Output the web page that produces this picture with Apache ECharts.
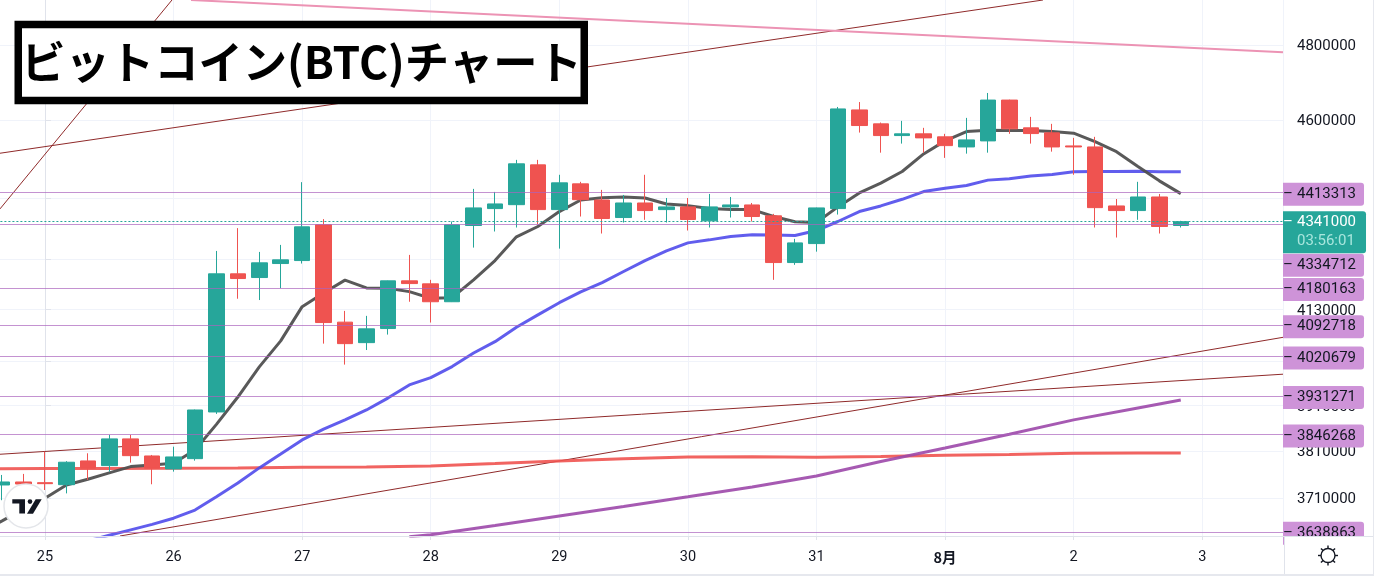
<!DOCTYPE html>
<html><head><meta charset="utf-8">
<style>html,body{margin:0;padding:0;background:#fff;overflow:hidden}#c{width:1374px;height:576px}</style>
<script src="https://cdn.jsdelivr.net/npm/echarts@6/dist/echarts.min.js"></script>
</head><body><div id="c"></div>
<script>
const titleText = 'ビットコイン(BTC)チャート';
const dayLabels = ['24','25','26','27','28','29','30','31','8月','2','3'];
const firstCandle = -2;
const opens = [3737200,3743600,3742100,3737800,3788700,3778600,3836500,3799400,3771500,3793600,3895700,4214200,4205300,4238900,4246100,4333400,4099900,4052400,4085000,4197400,4190200,4147800,4331600,4373500,4383300,4483700,4371000,4435500,4394900,4351300,4387500,4371000,4377700,4343200,4377700,4382600,4355500,4241300,4287300,4373500,4626000,4589500,4559000,4563500,4555700,4529600,4545200,4652000,4579100,4566100,4532200,4529600,4380100,4368600,4402500,4331600];
const closes = [3743600,3739300,3740000,3785900,3773000,3836500,3800100,3773000,3797300,3900100,4214200,4202900,4240600,4247800,4328400,4099000,4050100,4084300,4197400,4190900,4147800,4333400,4375200,4385100,4486300,4371000,4438000,4395700,4348900,4387500,4368600,4377700,4346400,4377700,4382600,4353800,4241300,4289000,4375200,4628600,4585100,4559000,4563500,4553000,4533000,4547800,4652000,4576500,4564200,4529600,4529600,4375900,4368600,4402500,4329200,4341000];
const lows = [3705000,3737200,3726500,3719400,3747900,3765700,3785000,3738700,3765700,3789300,3891400,4154900,4151800,4179900,4238900,4050100,4002100,4035400,4071000,4147800,4099000,4147100,4277500,4316900,4326700,4335100,4275000,4353800,4311900,4339000,4345700,4339000,4319300,4326700,4351300,4341500,4199800,4235800,4267700,4358700,4566800,4514900,4538200,4514900,4501500,4512400,4514900,4563500,4538200,4517500,4458400,4326700,4302100,4345700,4311900,4326700];
const highs = [3758600,3760800,3808700,3788100,3805200,3845200,3845200,3801600,3819500,3901000,4269400,4325200,4267000,4284100,4439800,4347400,4126200,4114600,4198000,4259800,4199800,4341500,4422800,4415200,4496400,4496400,4458400,4440600,4420300,4407600,4458400,4400000,4400000,4410100,4402500,4387500,4360400,4298900,4376000,4633800,4646800,4592900,4597300,4579100,4563500,4605100,4670800,4653000,4607700,4589500,4553000,4555700,4397400,4440600,4410100,4343200];
const fastMAStart = -3;
const fastMA = [3638900,3661600,3686400,3709300,3737200,3749400,3762900,3776500,3780100,3783800,3812300,3868300,3928900,3996900,4056400,4136200,4168600,4199100,4180600,4179900,4171700,4155900,4157300,4199800,4246100,4303800,4329200,4366100,4394900,4400700,4402500,4400000,4385100,4380900,4373500,4371000,4371000,4353800,4340700,4339000,4377700,4412700,4437300,4466700,4511600,4545200,4569500,4573100,4572100,4572100,4569500,4565300,4543400,4517500,4479400,4443100,4410900];
const midMAStart = 2;
const midMA = [3620300,3631700,3643000,3654400,3667200,3684300,3712100,3741500,3773700,3803700,3834300,3857800,3878200,3900100,3926600,3956100,3972600,3997600,4028600,4054700,4088200,4116900,4145500,4171000,4193300,4219700,4246100,4269400,4289000,4296400,4304500,4308700,4308000,4307000,4319300,4341500,4366100,4380100,4396700,4416000,4424600,4431200,4444900,4448200,4455100,4459100,4466000,4466700,4466700,4467700,4466000,4466000];
const redMAIdx = [-3,0,3,6,9,12,15,18,21,24,27,30,33,36,39,42,45,48,51,53];
const redMA = [3771500,3772200,3772600,3773000,3773700,3775200,3775800,3778000,3783100,3788700,3793600,3797300,3797700,3796600,3798400,3800900,3802400,3805200,3805600,3805900];
const purpleMAIdx = [17,18,21,24,27,30,33,36,39,42,45,48,51,53];
const purpleMA = [3628600,3632700,3652100,3671900,3691600,3712100,3732900,3756500,3787400,3816700,3846600,3878200,3904500,3922100];
const trendA = [[-2.1,4372700],[5.926,4924500]];
const trendB = [[-2.1,4513400],[46.57,4924500]];
const trendC = [[3.5,3630300],[57.77,4064700]];
const trendD = [[-2.1,3803100],[57.77,3980300]];
const trendPink = [[6.813,4924500],[57.77,4780100]];
const levelPrices = [4413313,4334712,4180163,4092718,4020679,3931271,3846268,3638863];
const displaced = {4334712:39.5};
const lastPrice = 4341000;
const countdown = '03:56:01';
const axisPrices = [4800000,4600000,4130000,3910000,3810000,3710000];
const gridPrices = [4800000,4600000,4400000,4250000,4130000,4010000,3910000,3810000,3710000];

const UP='#26a69a', DOWN='#ef5350', GRID='#f0f3fa', BORDER='#e0e3eb', INK='#131722', LABEL='#ce93d8', TREND='#8f2a2a';
const candles = opens.map((o,k)=>[firstCandle+k,o,closes[k],lows[k],highs[k]]);
const withStart=(arr,s)=>arr.map((v,k)=>[s+k,v]);
const withIdx=(arr,idx)=>arr.map((v,k)=>[idx[k],v]);
const lineS=(name,data,color,width,z)=>({name,type:'line',data,showSymbol:false,symbol:'none',silent:true,z:z||3,
  lineStyle:{color,width},itemStyle:{color},clip:true});
const levelLines = levelPrices.map(p=>({yAxis:p,
  lineStyle:{color:'rgba(171,100,190,0.7)',width:1,type:'solid'},
  label:{show:true,position:'end',distance:0,offset:[0,(displaced[p]||0)+1.5],
    formatter:'{t|–}{v|'+p+'}',backgroundColor:LABEL,borderRadius:[0,3,3,0],padding:[3,8,3,0],
    rich:{t:{width:14,color:INK,fontSize:15,fontFamily:'Roboto',lineHeight:17},v:{color:INK,fontSize:15,fontFamily:'Roboto',lineHeight:17}}}}));
const priceLine = {yAxis:lastPrice,
  lineStyle:{color:UP,width:1,type:[2,2]},
  label:{show:true,position:'end',distance:0,offset:[0,10.5],
    formatter:'{t|–}{p|'+lastPrice+'}\n{t|}{q|'+countdown+'}',backgroundColor:UP,borderRadius:[0,3,3,0],padding:[2,10,2,0],
    rich:{t:{width:14,color:'#fff',fontSize:15,fontFamily:'Roboto',lineHeight:19},
      p:{color:'#fff',fontSize:15,fontFamily:'Roboto',lineHeight:19},
      q:{color:'#a8e6dd',fontSize:15,fontFamily:'Roboto',lineHeight:19}}}};

const rays=[];
for(let a=0;a<8;a++){const t=a*Math.PI/4,c=Math.cos(t),s=Math.sin(t);
  rays.push({type:'line',shape:{x1:1328+c*7,y1:555.5+s*7,x2:1328+c*10,y2:555.5+s*10},style:{stroke:INK,lineWidth:1.4},z:20});}

const chart=echarts.init(document.getElementById('c'),null,{renderer:'canvas'});
chart.setOption({
  animation:false,backgroundColor:'#fff',
  title:{text:titleText,left:18.25,top:24.5,borderColor:'#000',borderWidth:7.5,backgroundColor:'#fff',padding:[11,3,11,3],
    textStyle:{fontFamily:'"Noto Sans CJK JP"',fontWeight:700,fontSize:44.3,color:'#000',lineHeight:54},z:30},
  grid:{left:-83.6,right:91,top:0,bottom:40,outerBoundsMode:'none'},
  xAxis:{type:'value',min:-6,max:57.77,interval:6,
    axisLine:{show:true,onZero:false,lineStyle:{color:BORDER}},
    axisTick:{show:true,length:4,lineStyle:{color:BORDER}},
    splitLine:{show:true,lineStyle:{color:GRID,width:1}},
    axisLabel:{color:INK,fontSize:14.5,fontFamily:'Roboto',margin:14,hideOverlap:false,
      rich:{b:{fontWeight:700,color:INK,fontSize:14.5,fontFamily:'"Noto Sans CJK JP"',padding:[0,0,4,0]}},
      formatter:v=>{const d=(v+6)/6;if(!Number.isInteger(d))return '';const s=dayLabels[d]||'';return s.includes('月')?'{b|'+s+'}':s;}}},
  yAxis:{type:'log',logBase:10,position:'right',min:3630300,max:4924500,
    axisLine:{show:true,lineStyle:{color:BORDER}},
    axisTick:{show:true,length:6,lineStyle:{color:BORDER},customValues:gridPrices},
    splitLine:{show:true,lineStyle:{color:GRID,width:1}},
    axisLabel:{color:INK,fontSize:15,fontFamily:'Roboto',margin:14,customValues:axisPrices,
      rich:{a:{color:INK,fontSize:15,fontFamily:'Roboto',padding:[3,0,0,0]}},
      formatter:v=>'{a|'+Math.round(v)+'}'}},
  series:[
    lineS('trendA',trendA,TREND,1),lineS('trendB',trendB,TREND,1),
    lineS('trendC',trendC,TREND,1),lineS('trendD',trendD,TREND,1),
    lineS('trendPink',trendPink,'#ec93b4',2),
    {name:'levels',type:'line',data:[],silent:true,z:2,
      markLine:{silent:true,symbol:'none',animation:false,data:levelLines.concat([priceLine])}},
    lineS('redMA',withIdx(redMA,redMAIdx),'rgba(239,83,80,0.9)',3),
    lineS('purpleMA',withIdx(purpleMA,purpleMAIdx),'rgba(156,72,170,0.9)',3),
    lineS('midMA',withStart(midMA,midMAStart),'rgba(80,75,235,0.9)',3),
    lineS('fastMA',withStart(fastMA,fastMAStart),'rgba(80,80,80,0.95)',3),
    {name:'BTC',type:'candlestick',data:candles,z:4,barWidth:16,encode:{x:0,y:[1,2,3,4]},
      itemStyle:{color:UP,color0:DOWN,borderColor:UP,borderColor0:DOWN,borderWidth:1}}
  ],
  graphic:[
    {type:'rect',shape:{x:1284.5,y:536.5,width:88,height:37},style:{fill:'#fff'},z:15},
    {type:'rect',shape:{x:1284,y:536,width:1,height:38},style:{fill:BORDER},z:16},
    {type:'rect',shape:{x:0,y:536,width:1374,height:1},style:{fill:BORDER},z:16},
    {type:'rect',shape:{x:0,y:574,width:1374,height:2},style:{fill:'#e6e8ee'},z:16},
    {type:'rect',shape:{x:1373,y:0,width:1,height:576},style:{fill:'#e6e8ee'},z:16},
    {type:'circle',shape:{cx:26,cy:506,r:22},style:{fill:'#fff',stroke:'#e4e6ea',lineWidth:1.5},z:20},
    {type:'polygon',shape:{points:[[12.3,499.3],[25,499.3],[25,513.5],[19.3,513.5],[19.3,503.5],[12.3,503.5]]},style:{fill:INK},z:21},
    {type:'circle',shape:{cx:30,cy:501.6,r:2.3},style:{fill:INK},z:21},
    {type:'polygon',shape:{points:[[41.7,499.3],[35.7,499.3],[27,513.7],[33,513.7]]},style:{fill:INK},z:21},
    {type:'circle',shape:{cx:1328,cy:555.5,r:7},style:{fill:'none',stroke:INK,lineWidth:1.4},z:20}
  ].concat(rays)
});
</script></body></html>
